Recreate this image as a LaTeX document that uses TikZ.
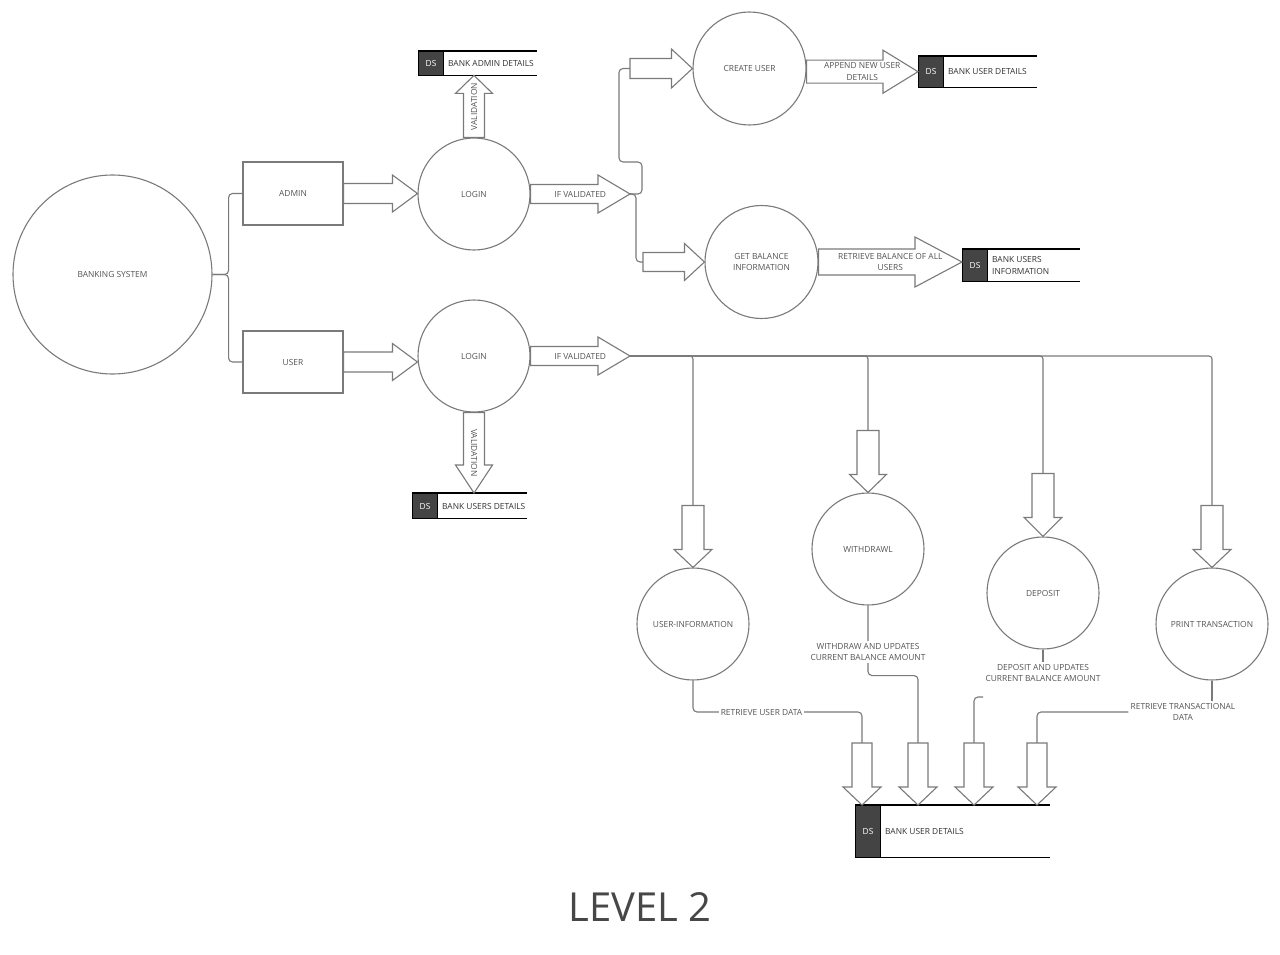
\documentclass[tikz,border=0pt]{standalone}
\usepackage{fontspec}
\setmainfont{Open Sans}
\usetikzlibrary{calc}

\definecolor{linegray}{HTML}{7A7A7A}
\definecolor{txtgray}{HTML}{555555}
\definecolor{dsgray}{HTML}{444444}
\definecolor{titlegray}{HTML}{474747}

\newcommand\lblfont{\fontsize{8.4}{11.5}\selectfont}

\tikzset{
  conn/.style={draw=linegray, line width=1.1, rounded corners=4},
  fatline/.style={draw=linegray, line width=1.1, fill=white, line join=miter},
  proc/.style={circle, draw=linegray, line width=1.1, fill=white, text=txtgray,
    font=\lblfont, align=center, inner sep=0},
  entity/.style={rectangle, draw=linegray, line width=1.1, text=txtgray,
    font=\lblfont, minimum width=100, minimum height=63},
  lbl/.style={text=txtgray, font=\lblfont, align=center, inner sep=2},
  dsframe/.style={inner sep=0},
  dstag/.style={fill=dsgray, draw=black, line width=1, text=white, font=\lblfont,
    minimum width=25, inner sep=0},
  dstext/.style={text=txtgray!60!black, font=\lblfont, align=left, inner sep=4},
  dsline/.style={draw=black, line width=1.4},
}

% hollow block arrow: start, tip, body half-width, head half-width, head length
\newcommand\fatarrow[5]{%
  \path ($(#2)!#5!(#1)$) coordinate (headbase);
  \draw[fatline] ($(#1)!#3!90:(#2)$) -- ($(headbase)!#3!90:(#2)$)
    -- ($(headbase)!#4!90:(#2)$) -- (#2) -- ($(headbase)!#4!-90:(#2)$)
    -- ($(headbase)!#3!-90:(#2)$) -- ($(#1)!#3!-90:(#2)$) -- cycle;
}

% open-ended data store: name, x, top y, width, height, text
\newcommand\datastore[6]{%
  \node[dsframe, minimum width=#4, minimum height=#5, anchor=north west] (#1) at (#2,#3) {};
  \node[dstag, minimum height=#5, anchor=north west] (#1tag) at (#1.north west) {DS};
  \node[dstext, anchor=west] (#1text) at (#1tag.east) {#6};
  \draw[dsline] (#1.north west) -- (#1.north east) (#1.south west) -- (#1.south east);
}

\begin{document}
\begin{tikzpicture}[x=1pt,y=-1pt]
\useasboundingbox (0,0) rectangle (1280,955);
\fill[white] (0,0) rectangle (1280,955);

% processes and entities
\node[proc, minimum size=199] (bank) at (112.5,274.5) {BANKING SYSTEM};
\node[entity] (admin) at (293,193.5) {ADMIN};
\node[entity, minimum height=62] (user) at (293,362) {USER};
\node[proc, minimum size=112] (alogin) at (474,194) {LOGIN};
\node[proc, minimum size=112] (ulogin) at (474,356) {LOGIN};
\node[proc, minimum size=113] (create) at (749.5,68.5) {CREATE USER};
\node[proc, minimum size=113] (balance) at (761.5,262) {GET BALANCE\\INFORMATION};
\node[proc, minimum size=112] (userinfo) at (693,624) {USER-INFORMATION};
\node[proc, minimum size=112] (withdrawl) at (868,549) {WITHDRAWL};
\node[proc, minimum size=112] (deposit) at (1043,593) {DEPOSIT};
\node[proc, minimum size=112] (print) at (1212,624) {PRINT TRANSACTION};

% data stores
\datastore{dsadmin}{418}{51}{119}{24}{BANK ADMIN DETAILS}
\datastore{dsnew}{918}{56}{119}{31}{BANK USER DETAILS}
\datastore{dsinfo}{962}{249}{118}{32}{BANK USERS\\INFORMATION}
\datastore{dsusers}{412}{493}{115}{25}{BANK USERS DETAILS}
\datastore{dsmain}{855}{805}{195}{52}{BANK USER DETAILS}

% system splits into admin and user
\draw[conn] (bank.east) -- ++(16,0) |- (admin.west);
\draw[conn] (bank.east) -- ++(16,0) |- (user.west);

% entity -> login
\coordinate (aIn) at (admin.east -| alogin.west);
\fatarrow{admin.east}{aIn}{10pt}{18.5pt}{25pt}
\coordinate (uIn) at (user.east -| ulogin.west);
\fatarrow{user.east}{uIn}{10pt}{18.5pt}{25pt}

% admin login validation
\coordinate (aVal) at (alogin.north |- dsadmin.south);
\fatarrow{alogin.north}{aVal}{10.5pt}{18.5pt}{18pt}
\node[lbl, rotate=90] (lvala) at ($(alogin.north)!0.5!(aVal)$) {VALIDATION};

% admin branch
\coordinate (aif) at (630,194);
\fatarrow{alogin.east}{aif}{9.5pt}{19pt}{32pt}
\node[lbl] (lifa) at ($(alogin.east)!0.5!(aif)$) {IF VALIDATED};

\coordinate (cstart) at (630,68.5);
\draw[conn] (aif) -| (642,162) -| (619,68.5) -- (cstart);
\fatarrow{cstart}{create.west}{10pt}{19.5pt}{21pt}

\coordinate (bstart) at (643,262);
\draw[conn] (aif) -- (636,194) |- (bstart);
\fatarrow{bstart}{balance.west}{9.5pt}{18.5pt}{20pt}

\coordinate (appOut) at (create.east |- dsnew.west);
\fatarrow{appOut}{dsnew.west}{11.5pt}{21.5pt}{35pt}
\node[lbl] (lapp) at ($(appOut)!0.5!(dsnew.west)$) {APPEND NEW USER\\DETAILS};

\coordinate (rbIn) at (balance.east -| dsinfo.west);
\fatarrow{balance.east}{rbIn}{13pt}{25pt}{47pt}
\node[lbl] (lrb) at ($(balance.east)!0.5!(rbIn)$) {RETRIEVE BALANCE OF ALL\\USERS};

% user login validation
\coordinate (uVal) at (ulogin.south |- dsusers.north);
\fatarrow{ulogin.south}{uVal}{10.5pt}{18.5pt}{28pt}
\node[lbl, rotate=-90] (lvalu) at ($(ulogin.south)!0.5!(uVal)$) {VALIDATION};

% user branch
\coordinate (uif) at (630,356);
\fatarrow{ulogin.east}{uif}{9.5pt}{19pt}{32pt}
\node[lbl] (lifu) at ($(ulogin.east)!0.5!(uif)$) {IF VALIDATED};

\coordinate (uiTop) at ($(userinfo.north)+(0,-62)$);
\coordinate (wdTop) at ($(withdrawl.north)+(0,-62)$);
\coordinate (dpTop) at ($(deposit.north)+(0,-63)$);
\coordinate (ptTop) at ($(print.north)+(0,-62)$);
\draw[conn, rounded corners=3] (uif) -| (ptTop);
\draw[conn, rounded corners=3] (uif) -| (dpTop);
\draw[conn, rounded corners=3] (uif) -| (wdTop);
\draw[conn, rounded corners=3] (uif) -| (uiTop);
\fatarrow{uiTop}{userinfo.north}{11pt}{19pt}{18pt}
\fatarrow{wdTop}{withdrawl.north}{11pt}{18.5pt}{18pt}
\fatarrow{dpTop}{deposit.north}{11pt}{19pt}{19pt}
\fatarrow{ptTop}{print.north}{11pt}{19pt}{18pt}

% flows into the user details store
\coordinate (in1) at (862,743);
\coordinate (in2) at (918,743);
\coordinate (in3) at (974,743);
\coordinate (in4) at (1037,743);
\coordinate (t1) at (in1 |- dsmain.north);
\coordinate (t2) at (in2 |- dsmain.north);
\coordinate (t3) at (in3 |- dsmain.north);
\coordinate (t4) at (in4 |- dsmain.north);

\coordinate (k1) at (761.5,712);
\draw[conn] (userinfo.south) |- (k1) -| (in1);
\node[lbl, fill=white] (lrud) at (k1) {RETRIEVE USER DATA};

\draw[conn] (withdrawl.south) -- ++(0,70) -| (in2);
\node[lbl, fill=white] (lwd) at (868,652) {WITHDRAW AND UPDATES\\CURRENT BALANCE AMOUNT};

\node[lbl] (ldep) at (1043,673) {DEPOSIT AND UPDATES\\CURRENT BALANCE AMOUNT};
\draw[conn] (deposit.south) -- (ldep.north);
\coordinate (k3) at (983,697);
\draw[conn] (k3) -| (in3);

\node[lbl] (lrtd) at (1183,712) {RETRIEVE TRANSACTIONAL\\DATA};
\draw[conn] (print.south) -- (print.south |- lrtd.north);
\draw[conn] (lrtd.west) -| (in4);

\fatarrow{in1}{t1}{10pt}{19pt}{18pt}
\fatarrow{in2}{t2}{10pt}{19pt}{18pt}
\fatarrow{in3}{t3}{10pt}{19pt}{18pt}
\fatarrow{in4}{t4}{10pt}{19pt}{18pt}

% title
\node[font=\fontsize{40}{48}\selectfont, text=titlegray] (title) at (640,907) {LEVEL 2};
\end{tikzpicture}
\end{document}
